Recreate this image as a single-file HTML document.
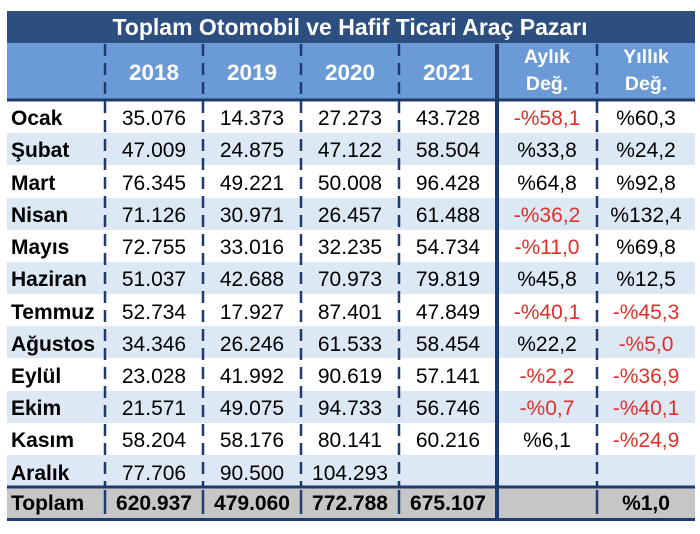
<!DOCTYPE html>
<html><head><meta charset="utf-8"><style>
html,body{margin:0;padding:0;background:#fff;}
svg{display:block;}
text{font-family:"Liberation Sans",Arial,sans-serif;}
</style></head><body>
<svg width="700" height="534" viewBox="0 0 700 534" xmlns="http://www.w3.org/2000/svg">
<rect x="7" y="11" width="688" height="32" fill="#2c4f7f"/>
<rect x="7" y="43" width="688" height="57" fill="#6b9bd6"/>
<text x="350" y="35" text-anchor="middle" font-size="23" font-weight="bold" fill="#fff">Toplam Otomobil ve Hafif Ticari Araç Pazarı</text>
<g font-size="22.5" font-weight="bold" fill="#fff" text-anchor="middle">
<text x="154" y="80">2018</text><text x="252" y="80">2019</text><text x="350" y="80">2020</text><text x="448" y="80">2021</text>
</g>
<g font-size="19.5" font-weight="bold" fill="#fff" text-anchor="middle">
<text x="547" y="63">Aylık</text><text x="547" y="90">Değ.</text>
<text x="646" y="63">Yıllık</text><text x="646" y="90">Değ.</text>
</g>
<g fill="#dde8f5">
<rect x="7" y="133" width="688" height="32"/>
<rect x="7" y="198" width="688" height="32"/>
<rect x="7" y="262" width="688" height="32"/>
<rect x="7" y="326" width="688" height="32"/>
<rect x="7" y="391" width="688" height="32"/>
<rect x="7" y="455" width="688" height="32"/>
</g>
<rect x="7" y="487" width="688" height="31" fill="#c6c6c6"/>
<g stroke="#1f3a6e" stroke-width="2.5" stroke-dasharray="12,7">
<line x1="105" y1="44" x2="105" y2="487"/><line x1="203" y1="44" x2="203" y2="487"/>
<line x1="301" y1="44" x2="301" y2="487"/><line x1="399" y1="44" x2="399" y2="487"/>
<line x1="597" y1="44" x2="597" y2="487"/>
</g>
<g stroke="#1f3a6e" stroke-width="2.5">
<line x1="105" y1="490" x2="105" y2="514"/><line x1="203" y1="490" x2="203" y2="514"/>
<line x1="301" y1="490" x2="301" y2="514"/><line x1="399" y1="490" x2="399" y2="514"/>
<line x1="597" y1="490" x2="597" y2="514"/>
</g>
<line x1="497" y1="44" x2="497" y2="519" stroke="#1f3a6e" stroke-width="4"/>
<g stroke="#1f3a6e" stroke-width="3">
<line x1="7" y1="100" x2="695" y2="100"/>
<line x1="7" y1="487" x2="695" y2="487"/>
<line x1="7" y1="519.5" x2="695" y2="519.5"/>
</g>
<g font-size="21" font-weight="bold" fill="#000">
<text x="11" y="125">Ocak</text><text x="11" y="157">Şubat</text><text x="11" y="190">Mart</text>
<text x="11" y="222">Nisan</text><text x="11" y="254">Mayıs</text><text x="11" y="286">Haziran</text>
<text x="11" y="319">Temmuz</text><text x="11" y="351">Ağustos</text><text x="11" y="383">Eylül</text>
<text x="11" y="415">Ekim</text><text x="11" y="447">Kasım</text><text x="11" y="480">Aralık</text>
<text x="11" y="510">Toplam</text>
</g>
<g font-size="21" fill="#000" text-anchor="middle">
<g transform="translate(0,125)"><text x="154">35.076</text><text x="252">14.373</text><text x="350">27.273</text><text x="448">43.728</text><text x="547" fill="#e0302a">-%58,1</text><text x="646">%60,3</text></g>
<g transform="translate(0,157)"><text x="154">47.009</text><text x="252">24.875</text><text x="350">47.122</text><text x="448">58.504</text><text x="547">%33,8</text><text x="646">%24,2</text></g>
<g transform="translate(0,190)"><text x="154">76.345</text><text x="252">49.221</text><text x="350">50.008</text><text x="448">96.428</text><text x="547">%64,8</text><text x="646">%92,8</text></g>
<g transform="translate(0,222)"><text x="154">71.126</text><text x="252">30.971</text><text x="350">26.457</text><text x="448">61.488</text><text x="547" fill="#e0302a">-%36,2</text><text x="646">%132,4</text></g>
<g transform="translate(0,254)"><text x="154">72.755</text><text x="252">33.016</text><text x="350">32.235</text><text x="448">54.734</text><text x="547" fill="#e0302a">-%11,0</text><text x="646">%69,8</text></g>
<g transform="translate(0,286)"><text x="154">51.037</text><text x="252">42.688</text><text x="350">70.973</text><text x="448">79.819</text><text x="547">%45,8</text><text x="646">%12,5</text></g>
<g transform="translate(0,319)"><text x="154">52.734</text><text x="252">17.927</text><text x="350">87.401</text><text x="448">47.849</text><text x="547" fill="#e0302a">-%40,1</text><text x="646" fill="#e0302a">-%45,3</text></g>
<g transform="translate(0,351)"><text x="154">34.346</text><text x="252">26.246</text><text x="350">61.533</text><text x="448">58.454</text><text x="547">%22,2</text><text x="646" fill="#e0302a">-%5,0</text></g>
<g transform="translate(0,383)"><text x="154">23.028</text><text x="252">41.992</text><text x="350">90.619</text><text x="448">57.141</text><text x="547" fill="#e0302a">-%2,2</text><text x="646" fill="#e0302a">-%36,9</text></g>
<g transform="translate(0,415)"><text x="154">21.571</text><text x="252">49.075</text><text x="350">94.733</text><text x="448">56.746</text><text x="547" fill="#e0302a">-%0,7</text><text x="646" fill="#e0302a">-%40,1</text></g>
<g transform="translate(0,447)"><text x="154">58.204</text><text x="252">58.176</text><text x="350">80.141</text><text x="448">60.216</text><text x="547">%6,1</text><text x="646" fill="#e0302a">-%24,9</text></g>
<g transform="translate(0,480)"><text x="154">77.706</text><text x="252">90.500</text><text x="350">104.293</text></g>
<g transform="translate(0,510)" font-weight="bold"><text x="154">620.937</text><text x="252">479.060</text><text x="350">772.788</text><text x="448">675.107</text><text x="646">%1,0</text></g>
</g>
</svg>
</body></html>
